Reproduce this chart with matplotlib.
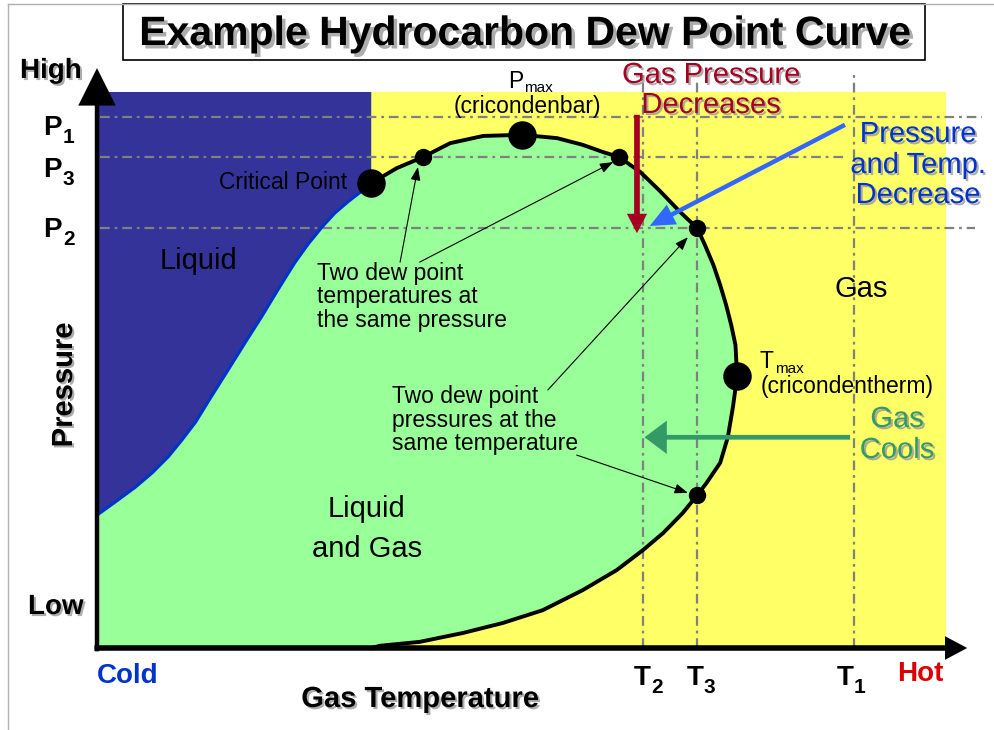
import matplotlib.pyplot as plt
import matplotlib.patheffects as pe
from matplotlib.patches import Rectangle
from matplotlib.lines import Line2D

plt.rcParams['font.family'] = ['Liberation Sans', 'DejaVu Sans']
plt.rcParams['lines.scale_dashes'] = False

# phase envelope, temperature and pressure in arbitrary 0-100 units
liq_t = [0.0, 2.1, 4.5, 6.5, 8.4, 10.0, 11.6, 13.5, 15.4, 17.4, 19.4, 21.3, 23.3, 24.9,
         26.5, 28.0, 29.6, 31.2, 32.3]
liq_p = [23.9, 26.2, 28.9, 31.5, 34.4, 37.4, 40.6, 45.3, 49.9, 54.8, 59.6, 64.4, 69.3, 72.7,
         75.7, 78.2, 80.3, 82.2, 83.6]

dew_t = [32.3, 35.3, 38.4, 41.6, 45.5, 50.1, 54.2, 57.2, 59.6, 61.5, 64.0, 66.3, 68.7, 70.7,
         71.6, 72.6, 73.4, 74.1, 74.7, 75.2, 75.4, 74.9, 74.3, 73.4, 71.8, 70.7, 69.0, 66.7,
         64.3, 61.2, 57.2, 52.5, 47.8, 43.1, 38.0, 33.3, 32.4]
dew_p = [83.6, 86.3, 88.3, 90.8, 92.1, 92.3, 91.7, 90.5, 89.2, 88.3, 85.6, 82.2, 78.4, 75.5,
         72.5, 68.9, 65.3, 61.7, 58.1, 54.5, 48.9, 43.3, 37.9, 33.3, 29.7, 27.5, 24.3, 20.7,
         17.6, 14.0, 10.4, 6.8, 4.5, 2.7, 1.1, 0.4, 0.0]

# critical point, cricondenbar, cricondentherm
big_t = [32.3, 50.1, 75.4]
big_p = [83.6, 92.3, 48.9]
# two dew point temperatures at P3, two dew point pressures at T3
small_t = [38.4, 61.5, 70.7, 70.7]
small_p = [88.3, 88.3, 75.5, 27.5]

p_levels = {'P1': 95.5, 'P3': 88.3, 'P2': 75.5}
t_levels = {'T2': 64.3, 'T3': 70.7, 'T1': 89.2}

W, H = 995, 730
fig = plt.figure(figsize=(W / 100, H / 100), dpi=100)
ax = fig.add_axes([0, 0, 1, 1])
# 1 unit = 8.49 px across, 5.56 px up; origin at pixel (97, 648)
ax.set_xlim(-97 / 8.49, (W - 97) / 8.49)
ax.set_ylim(-(H - 648) / 5.56, 648 / 5.56)
ax.axis('off')


def at(x, y):
    return x / W, 1 - y / H


shadow = [pe.withSimplePatchShadow(offset=(1.5, -1.5), shadow_rgbFace='#999999', alpha=0.8)]
shadow2 = [pe.withSimplePatchShadow(offset=(2.5, -2.5), shadow_rgbFace='#999999', alpha=0.8)]

# slide frame
fig.add_artist(Line2D([8 / W, 8 / W], [0, 1 - 4 / H], color='#b0b0b0', lw=1))
fig.add_artist(Line2D([8 / W, 1], [1 - 4 / H, 1 - 4 / H], color='#b0b0b0', lw=1))

# regions
ax.add_patch(Rectangle((0, 0), 100, 100, fc='#FFFF66', ec='none', zorder=0))
ax.fill(liq_t + [liq_t[-1], 0], liq_p + [100, 100], color='#333399', lw=0, zorder=1)
ax.fill([0] + liq_t + dew_t[1:], [0] + liq_p + dew_p[1:], color='#99FF99', lw=0, zorder=1)

# reference levels
dash = (7, 3.5, 2, 3.5)
for name, x1 in [('P1', 104.2), ('P3', 88.5), ('P2', 103.4)]:
    ax.plot([0.4, x1], [p_levels[name]] * 2, color='#808080', lw=1.6, dashes=dash,
            zorder=2, clip_on=False)
for name, y1 in [('T2', 103.4), ('T3', 102.2), ('T1', 103.6)]:
    ax.plot([t_levels[name]] * 2, [0, y1], color='#808080', lw=1.6, dashes=dash,
            zorder=2, clip_on=False)

# curves and points
ax.plot(liq_t, liq_p, color='#0033CC', lw=2.2, zorder=3, solid_joinstyle='round')
ax.plot(dew_t, dew_p, color='k', lw=2.8, zorder=3, solid_joinstyle='round')
ax.plot(big_t, big_p, 'o', color='k', ms=19.5, zorder=5)
ax.plot(small_t, small_p, 'o', color='k', ms=11.5, zorder=5)

# axes with arrow heads
ax.annotate('', xy=(0, 104.3), xytext=(0, -0.6),
            arrowprops=dict(arrowstyle='simple,head_length=27,head_width=27,tail_width=3.2',
                            mutation_scale=1, fc='k', ec='none', lw=0, shrinkA=0, shrinkB=0),
            zorder=6)
ax.annotate('', xy=(102.5, 0), xytext=(-0.3, 0),
            arrowprops=dict(arrowstyle='simple,head_length=16,head_width=17,tail_width=4',
                            mutation_scale=1, fc='k', ec='none', lw=0, shrinkA=0, shrinkB=0),
            zorder=6)

# process arrows
ax.annotate('', xy=(63.6, 74.6), xytext=(63.6, 95.9),
            arrowprops=dict(arrowstyle='simple,head_length=14,head_width=14.5,tail_width=4.1',
                            mutation_scale=1, fc='#A50021', ec='none', lw=0, shrinkA=0, shrinkB=0),
            zorder=7)
ax.annotate('', xy=(65.1, 75.9), xytext=(88.1, 94.1),
            arrowprops=dict(arrowstyle='simple,head_length=18,head_width=16,tail_width=3.2',
                            mutation_scale=1, fc='#3366FF', ec='none', lw=0, shrinkA=0, shrinkB=0),
            zorder=7)
ax.annotate('', xy=(64.5, 37.9), xytext=(88.7, 37.9),
            arrowprops=dict(arrowstyle='simple,head_length=16,head_width=24,tail_width=3.4',
                            mutation_scale=1, fc='#339966', ec='none', lw=0, shrinkA=0, shrinkB=0),
            zorder=7)

# pointer arrows
thin = dict(arrowstyle='-|>,head_length=8,head_width=3', mutation_scale=1, color='k',
            lw=0.8, shrinkA=0, shrinkB=0)
ax.annotate('', xy=(37.8, 86.5), xytext=(35.7, 69.4), arrowprops=thin, zorder=6)
ax.annotate('', xy=(60.8, 87.4), xytext=(38.0, 69.4), arrowprops=thin, zorder=6)
ax.annotate('', xy=(69.6, 73.9), xytext=(53.1, 46.4), arrowprops=thin, zorder=6)
ax.annotate('', xy=(69.6, 27.9), xytext=(56.5, 34.7), arrowprops=thin, zorder=6)

# title
fig.add_artist(Rectangle((123 / W, 1 - 60 / H), 802 / W, 56 / H, transform=fig.transFigure,
                         fill=False, ec='k', lw=1.2))
fig.text(*at(525, 45), 'Example Hydrocarbon Dew Point Curve', ha='center', va='baseline',
         fontsize=29.5, fontweight='bold', path_effects=shadow2)

# axis labels
bold = dict(fontweight='bold', va='baseline')
fig.text(*at(20, 78), 'High', fontsize=20, path_effects=shadow, **bold)
fig.text(*at(28, 614), 'Low', fontsize=20, path_effects=shadow, **bold)
fig.text(*at(64, 385), 'Pressure', fontsize=21, fontweight='bold', rotation=90,
         ha='center', va='center', path_effects=shadow)
fig.text(*at(97, 683), 'Cold', fontsize=20, color='#0033CC', **bold)
fig.text(*at(897, 681), 'Hot', fontsize=20, color='#DD0000', **bold)
fig.text(*at(420, 707), 'Gas Temperature', fontsize=21, ha='center',
         path_effects=shadow, **bold)

for name, y in [('P1', 135), ('P3', 177), ('P2', 237)]:
    fig.text(*at(43, y), 'P', fontsize=20, **bold)
    fig.text(*at(63, y + 8), name[1], fontsize=15, **bold)
for name, x in [('T2', 634), ('T3', 687), ('T1', 837)]:
    fig.text(*at(x, 685), 'T', fontsize=20, **bold)
    fig.text(*at(x + 17, 693), name[1], fontsize=15, **bold)


def lines(x, ys, texts, **kw):
    for y, s in zip(ys, texts):
        fig.text(*at(x, y), s, va='baseline', **kw)


# coloured process notes
lines(711, [83, 113], ['Gas Pressure', 'Decreases'], fontsize=21, color='#A50021',
      ha='center', path_effects=shadow)
lines(918, [142, 173, 203], ['Pressure', 'and Temp.', 'Decrease'], fontsize=21,
      color='#0033CC', ha='center', path_effects=shadow)
lines(897, [427, 458], ['Gas', 'Cools'], fontsize=21, color='#339966', ha='center',
      path_effects=shadow)

# region labels
lines(861, [297], ['Gas'], fontsize=21, ha='center')
lines(199, [269], ['Liquid'], fontsize=21, ha='center')
lines(367, [517, 557], ['Liquid', 'and Gas'], fontsize=21, ha='center')

# point labels
lines(347, [189], ['Critical Point'], fontsize=16.5, ha='right')
lines(508, [88], ['P'], fontsize=16.5)
lines(524, [92], ['max'], fontsize=11)
lines(527, [113], ['(cricondenbar)'], fontsize=16.5, ha='center')
lines(760, [368], ['T'], fontsize=16.5)
lines(775, [373], ['max'], fontsize=11)
lines(761, [393], ['(cricondentherm)'], fontsize=16.5)
lines(317, [280, 303, 327], ['Two dew point', 'temperatures at', 'the same pressure'],
      fontsize=16.5)
lines(392, [403, 427, 450], ['Two dew point', 'pressures at the', 'same temperature'],
      fontsize=16.5)

fig.savefig('out.png', dpi=100)
